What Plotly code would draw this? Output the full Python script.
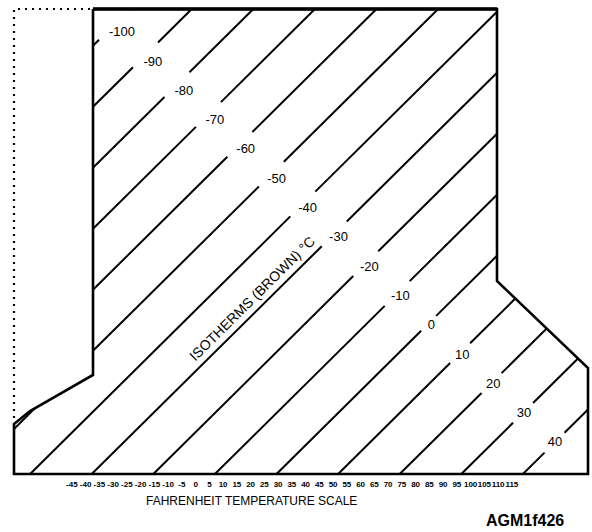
import math
import plotly.graph_objects as go

# ---------------- data ----------------
ISOTHERMS_C = [-100, -90, -80, -70, -60, -50, -40, -30, -20, -10, 0, 10, 20, 30, 40]
FAHRENHEIT_TICKS = list(range(-45, 120, 5))
FAHRENHEIT_TEXT = [str(f) for f in FAHRENHEIT_TICKS]

# diagram outline (diagram units, origin at lower-left corner)
BOUNDARY_U = [79, 483, 483, 574, 574, 0, 0, 16, 79, 79]
BOUNDARY_V = [465, 465, 193, 106, 0, 0, 50, 63, 99, 465]
# dotted outline of the omitted corner
DOTTED_U = [0, 0, 79]
DOTTED_V = [56, 465, 465]

TITLE_AXIS = "FAHRENHEIT TEMPERATURE SCALE"
NOTE = "ISOTHERMS (BROWN) °C"
FIG_ID = "AGM1f426"

# ---------------- geometry constants ----------------
ISO_U0 = 262.5        # where the 0 °C isotherm meets the base line
ISO_U_PER_C = 6.16    # horizontal spacing per °C
ISO_SKEW = 1.01       # du/dv of isotherms
LABEL_U0, LABEL_U_PER_C = 108.0, 3.093   # label locus (first label, step per °C)
LABEL_V0, LABEL_V_PER_C = 441.0, -2.93
F_ZERO_U = 181.6      # position of 0 °F on the base
U_PER_F = 2.75

U_MIN, U_MAX = -14, 578
V_MIN, V_MAX = -4, 474


def iso_c(t):
    return ISO_U0 + ISO_U_PER_C * t


def clip_line(c):
    """intervals in v where line u = c + skew*v lies inside the outline"""
    pts = list(zip(BOUNDARY_U, BOUNDARY_V))
    vs = []
    for (ua, va), (ub, vb) in zip(pts[:-1], pts[1:]):
        fa = ua - ISO_SKEW * va - c
        fb = ub - ISO_SKEW * vb - c
        if (fa > 0) != (fb > 0):
            s = fa / (fa - fb)
            vs.append(va + (vb - va) * s)
    vs.sort()
    return [(vs[i], vs[i + 1]) for i in range(0, len(vs) - 1, 2)]


norm = math.hypot(ISO_SKEW, 1.0)
du_dir, dv_dir = ISO_SKEW / norm, 1.0 / norm

line_u, line_v = [], []
lab_u, lab_v, lab_t = [], [], []
for t in ISOTHERMS_C:
    c = iso_c(t)
    text = str(t)
    k = t - ISOTHERMS_C[0]
    lu = LABEL_U0 + LABEL_U_PER_C * k
    lv = LABEL_V0 + LABEL_V_PER_C * k
    # foot of the label centre on the isotherm
    pu, pv = c + ISO_SKEW * lv, lv
    s = (lu - pu) * du_dir + (lv - pv) * dv_dir
    gv = pv + s * dv_dir
    half = (5 + 2.5 * len(text)) / ISO_SKEW
    lab_u.append(lu)
    lab_v.append(lv)
    lab_t.append(text)
    for v0, v1 in clip_line(c):
        pieces = []
        if v1 <= gv - half or v0 >= gv + half:
            pieces.append((v0, v1))
        else:
            if v0 < gv - half:
                pieces.append((v0, gv - half))
            if v1 > gv + half:
                pieces.append((gv + half, v1))
        for a, b in pieces:
            line_u += [c + ISO_SKEW * a, c + ISO_SKEW * b, None]
            line_v += [a, b, None]

fig = go.Figure()

fig.add_trace(go.Scatter(x=line_u, y=line_v, mode="lines",
                         line=dict(color="black", width=2),
                         hoverinfo="skip", showlegend=False))

fig.add_trace(go.Scatter(x=BOUNDARY_U, y=BOUNDARY_V, mode="lines",
                         line=dict(color="black", width=2.6),
                         hoverinfo="skip", showlegend=False))
# heavier top edge
fig.add_trace(go.Scatter(x=BOUNDARY_U[:2], y=BOUNDARY_V[:2], mode="lines",
                         line=dict(color="black", width=3.4),
                         hoverinfo="skip", showlegend=False))

fig.add_trace(go.Scatter(x=DOTTED_U, y=DOTTED_V, mode="lines",
                         line=dict(color="black", width=2.2, dash="2px,5px"),
                         hoverinfo="skip", showlegend=False))

fig.add_trace(go.Scatter(x=lab_u, y=lab_v, mode="text", text=lab_t,
                         textposition="middle center",
                         textfont=dict(family="Liberation Sans, Arial, sans-serif",
                                       size=13, color="black"),
                         hoverinfo="skip", showlegend=False))

# invisible trace on the Fahrenheit axis so it is drawn
fig.add_trace(go.Scatter(x=[FAHRENHEIT_TICKS[0], FAHRENHEIT_TICKS[-1]], y=[0, 0],
                         xaxis="x2", mode="markers", marker=dict(opacity=0),
                         hoverinfo="skip", showlegend=False))

ang = -math.degrees(math.atan2(1, ISO_SKEW))
note_v = 176
note_u = iso_c(-30) + ISO_SKEW * note_v - 17

f_min = (U_MIN - F_ZERO_U) / U_PER_F
f_max = (U_MAX - F_ZERO_U) / U_PER_F


def px(u):
    return (u - U_MIN) / (U_MAX - U_MIN)


def py(v):
    return (v - V_MIN) / (V_MAX - V_MIN)


fig.update_layout(
    width=592, height=532,
    margin=dict(l=0, r=0, t=0, b=54),
    paper_bgcolor="white", plot_bgcolor="white",
    showlegend=False,
    xaxis=dict(range=[U_MIN, U_MAX], visible=False, fixedrange=True),
    yaxis=dict(range=[V_MIN, V_MAX], visible=False, fixedrange=True),
    xaxis2=dict(range=[f_min, f_max], overlaying="x", anchor="y", side="bottom",
                tickmode="array", tickvals=FAHRENHEIT_TICKS, ticktext=FAHRENHEIT_TEXT,
                tickangle=0, showgrid=False, zeroline=False, showline=False,
                ticks="", ticklen=0,
                tickfont=dict(family="Liberation Sans, Arial", size=8,
                              color="black", weight="bold"),
                fixedrange=True),
    annotations=[
        dict(x=note_u, y=note_v, xref="x", yref="y", text=NOTE, showarrow=False,
             xanchor="center", yanchor="middle",
             textangle=ang, font=dict(family="Liberation Sans, Arial", size=14, color="black")),
        dict(x=px(237), y=py(-27), xref="paper", yref="paper", text=TITLE_AXIS,
             showarrow=False, xanchor="center", yanchor="middle",
             font=dict(family="Liberation Sans, Arial", size=12, color="black")),
        dict(x=px(511), y=py(-46), xref="paper", yref="paper", text=FIG_ID,
             showarrow=False, xanchor="center", yanchor="middle",
             font=dict(family="Liberation Sans, Arial", size=16, color="black",
                       weight="bold")),
    ],
)

fig.write_html("out.html", config={"displayModeBar": False},
               post_script="document.body.style.margin='0';")
